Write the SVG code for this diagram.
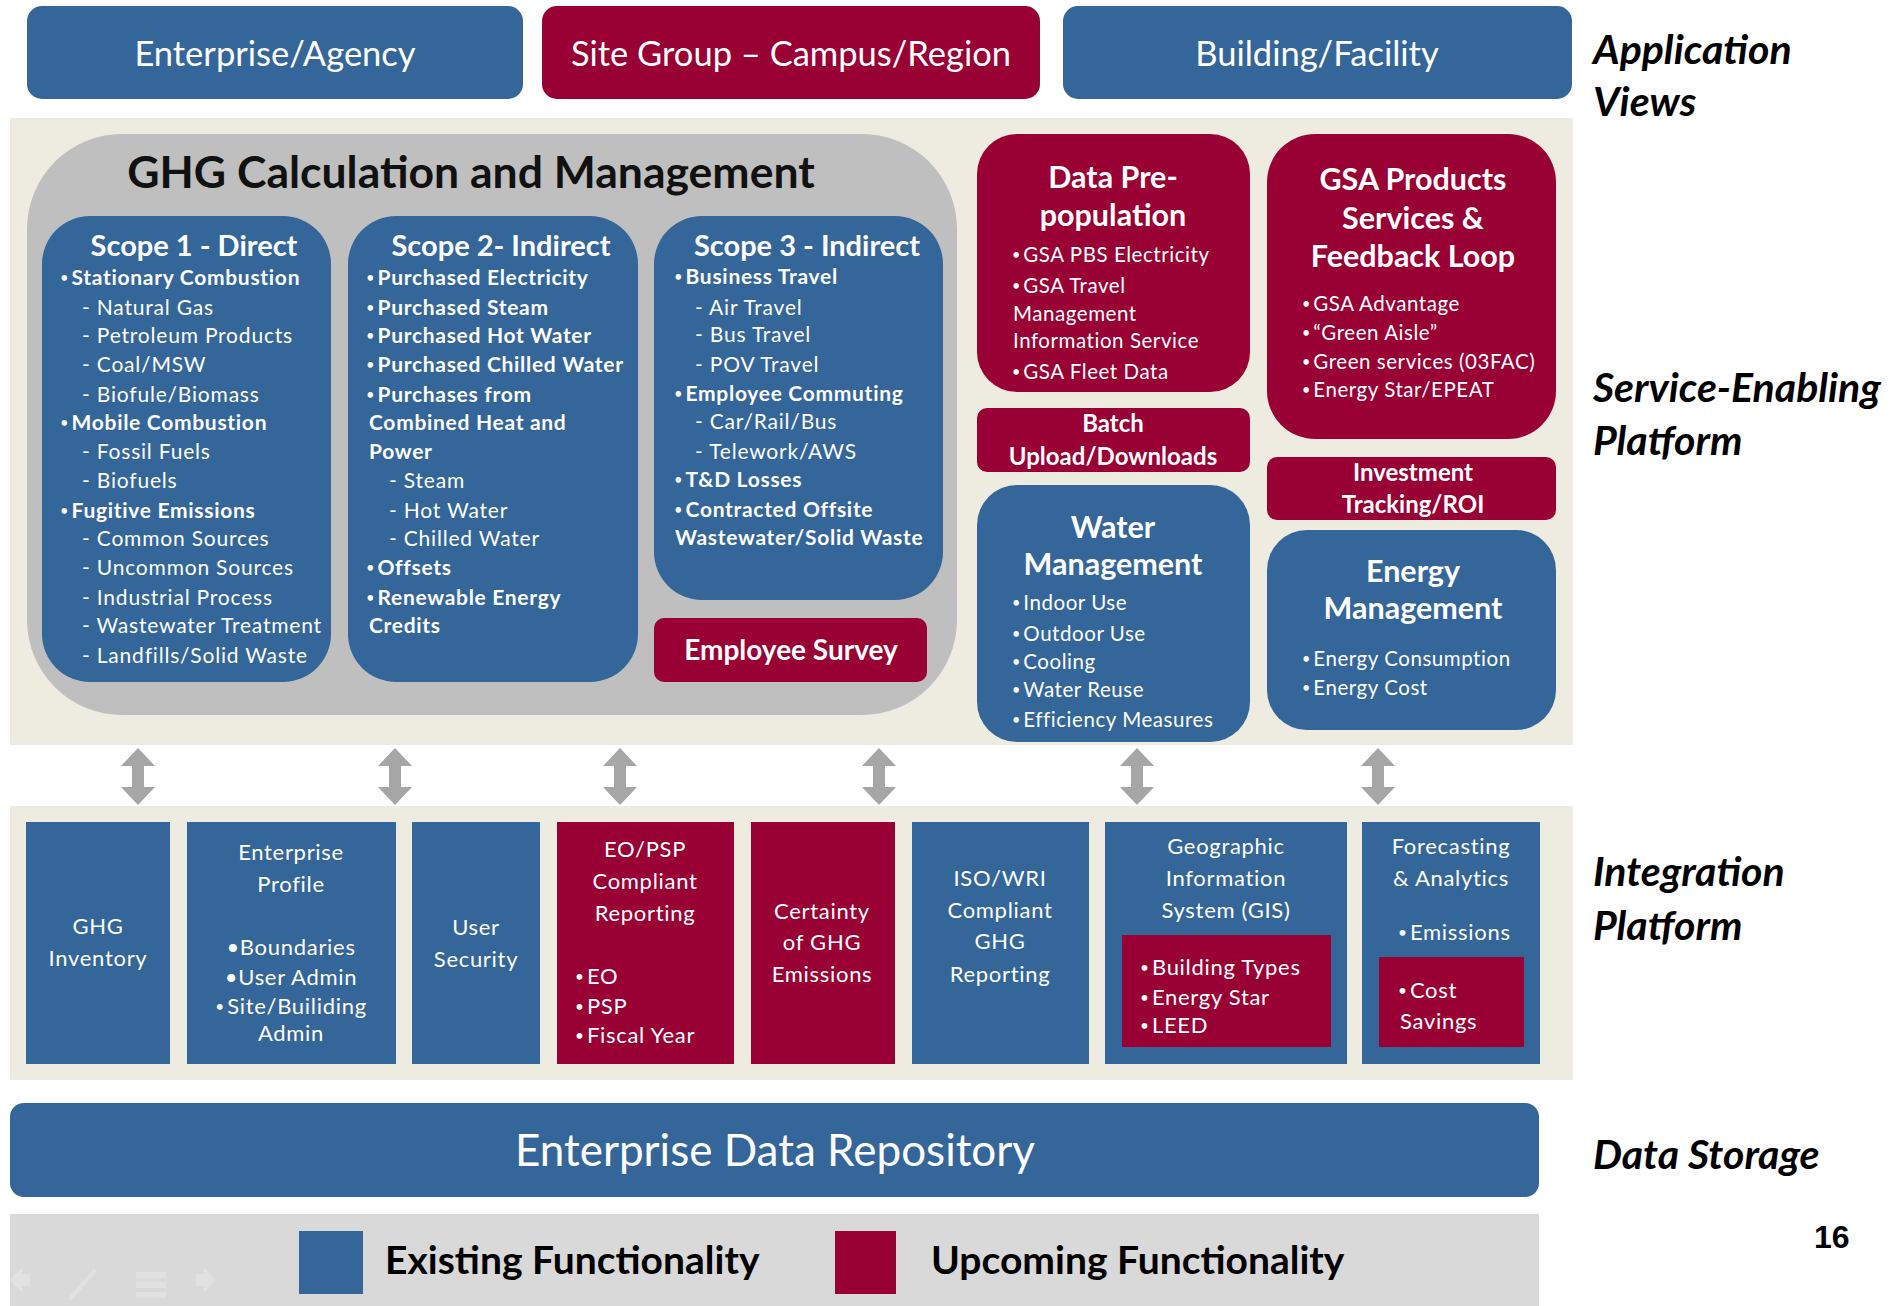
<svg xmlns="http://www.w3.org/2000/svg" width="1900" height="1306" viewBox="0 0 1900 1306">
<defs>
<style>
text{font-family:Lato,"Open Sans","Liberation Sans",sans-serif;fill:#fff}
.blue{fill:#34669A}
.red{fill:#990033}
.top{font-size:34.5px}
.side{font-size:41px;font-weight:bold;font-style:italic;fill:#000}
.st{font-size:29px;font-weight:bold}
.it{font-size:21px;letter-spacing:0.8px}
.b{font-weight:bold;letter-spacing:0.7px}
.sm{font-size:20.5px;letter-spacing:0.55px}
.mid{text-anchor:middle}
.hd{font-size:30.5px;font-weight:bold;text-anchor:middle}
.hd2{font-size:24px;font-weight:bold;text-anchor:middle}
.ip{font-size:22px;letter-spacing:0.7px}
.lg{font-size:39px;font-weight:bold;fill:#000}
.bu{font-size:0.7em;baseline-shift:0.12em;letter-spacing:3px;font-weight:normal}
</style>
<path id="dblarrow" d="M0,0 L17,18 L6,18 L6,39 L17,39 L0,57 L-17,39 L-6,39 L-6,18 L-17,18 Z" fill="#A6A6A6"/>
</defs>
<rect width="1900" height="1306" fill="#fff"/>

<!-- Application views -->
<g id="enterprise-agency"><rect class="blue" x="27" y="6" width="496" height="93" rx="15"/><text class="top mid" x="275" y="66">Enterprise/Agency</text></g>
<g id="site-group"><rect class="red" x="542" y="6" width="498" height="93" rx="15"/><text class="top mid" x="791" y="66">Site Group – Campus/Region</text></g>
<g id="building-facility"><rect class="blue" x="1063" y="6" width="509" height="93" rx="15"/><text class="top mid" x="1317" y="66">Building/Facility</text></g>
<text class="side" x="1593" y="64">Application</text>
<text class="side" x="1593" y="116">Views</text>

<!-- Service-enabling band -->
<rect x="10" y="118" width="1563" height="627" fill="#EEEBE0"/>
<g id="ghg-calc">
<rect x="27" y="134" width="930" height="581" rx="95" fill="#BFBFBF"/>
<text x="471" y="188" style="font-size:44.5px;font-weight:bold;fill:#111;text-anchor:middle">GHG Calculation and Management</text>
</g>
<g id="scope1">
<rect class="blue" x="42" y="216" width="289" height="466" rx="48"/>
<text class="st mid" x="194" y="256">Scope 1 - Direct</text>
<text class="it b" x="60" y="285"><tspan class="bu">•</tspan>Stationary Combustion</text>
<text class="it" x="82" y="315">- Natural Gas</text>
<text class="it" x="82" y="343">- Petroleum Products</text>
<text class="it" x="82" y="372">- Coal/MSW</text>
<text class="it" x="82" y="402">- Biofule/Biomass</text>
<text class="it b" x="60" y="430"><tspan class="bu">•</tspan>Mobile Combustion</text>
<text class="it" x="82" y="459">- Fossil Fuels</text>
<text class="it" x="82" y="488">- Biofuels</text>
<text class="it b" x="60" y="518"><tspan class="bu">•</tspan>Fugitive Emissions</text>
<text class="it" x="82" y="546">- Common Sources</text>
<text class="it" x="82" y="575">- Uncommon Sources</text>
<text class="it" x="82" y="605">- Industrial Process</text>
<text class="it" x="82" y="633">- Wastewater Treatment</text>
<text class="it" x="82" y="663">- Landfills/Solid Waste</text>
</g>
<g id="scope2">
<rect class="blue" x="348" y="216" width="290" height="466" rx="48"/>
<text class="st mid" x="501" y="256">Scope 2- Indirect</text>
<text class="it b" x="366" y="285"><tspan class="bu">•</tspan>Purchased Electricity</text>
<text class="it b" x="366" y="315"><tspan class="bu">•</tspan>Purchased Steam</text>
<text class="it b" x="366" y="343"><tspan class="bu">•</tspan>Purchased Hot Water</text>
<text class="it b" x="366" y="372"><tspan class="bu">•</tspan>Purchased Chilled Water</text>
<text class="it b" x="366" y="402"><tspan class="bu">•</tspan>Purchases from</text>
<text class="it b" x="369" y="430">Combined Heat and</text>
<text class="it b" x="369" y="459">Power</text>
<text class="it" x="389" y="488">- Steam</text>
<text class="it" x="389" y="518">- Hot Water</text>
<text class="it" x="389" y="546">- Chilled Water</text>
<text class="it b" x="366" y="575"><tspan class="bu">•</tspan>Offsets</text>
<text class="it b" x="366" y="605"><tspan class="bu">•</tspan>Renewable Energy</text>
<text class="it b" x="369" y="633">Credits</text>
</g>
<g id="scope3">
<rect class="blue" x="654" y="216" width="289" height="384" rx="48"/>
<text class="st mid" x="807" y="256">Scope 3 -  Indirect</text>
<text class="it b" x="674" y="284"><tspan class="bu">•</tspan>Business Travel</text>
<text class="it" x="695" y="315">- Air Travel</text>
<text class="it" x="695" y="342">- Bus Travel</text>
<text class="it" x="695" y="372">- POV Travel</text>
<text class="it b" x="674" y="401"><tspan class="bu">•</tspan>Employee Commuting</text>
<text class="it" x="695" y="429">- Car/Rail/Bus</text>
<text class="it" x="695" y="459">- Telework/AWS</text>
<text class="it b" x="674" y="487"><tspan class="bu">•</tspan>T&amp;D Losses</text>
<text class="it b" x="674" y="517"><tspan class="bu">•</tspan>Contracted  Offsite</text>
<text class="it b" x="675" y="545">Wastewater/Solid Waste</text>
</g>
<g id="employee-survey">
<rect class="red" x="654" y="618" width="273" height="64" rx="10"/>
<text class="mid" x="791" y="660" style="font-size:28px;font-weight:bold">Employee Survey</text>
</g>
<g id="data-prepopulation">
<rect class="red" x="977" y="134" width="273" height="258" rx="40"/>
<text class="hd" x="1113" y="188">Data Pre-</text>
<text class="hd" x="1113" y="226">population</text>
<text class="sm" x="1012" y="262"><tspan class="bu">•</tspan>GSA PBS Electricity</text>
<text class="sm" x="1012" y="293"><tspan class="bu">•</tspan>GSA Travel</text>
<text class="sm" x="1013" y="321">Management</text>
<text class="sm" x="1013" y="348">Information Service</text>
<text class="sm" x="1012" y="379"><tspan class="bu">•</tspan>GSA Fleet Data</text>
</g>
<g id="batch-upload">
<rect class="red" x="977" y="408" width="273" height="64" rx="10"/>
<text class="hd2" x="1113" y="432">Batch</text>
<text class="hd2" x="1113" y="465">Upload/Downloads</text>
</g>
<g id="water-management">
<rect class="blue" x="977" y="485" width="273" height="257" rx="40"/>
<text class="hd" x="1113" y="538">Water</text>
<text class="hd" x="1113" y="575">Management</text>
<text class="sm" x="1012" y="610"><tspan class="bu">•</tspan>Indoor Use</text>
<text class="sm" x="1012" y="641"><tspan class="bu">•</tspan>Outdoor Use</text>
<text class="sm" x="1012" y="669"><tspan class="bu">•</tspan>Cooling</text>
<text class="sm" x="1012" y="697"><tspan class="bu">•</tspan>Water Reuse</text>
<text class="sm" x="1012" y="727"><tspan class="bu">•</tspan>Efficiency Measures</text>
</g>
<g id="gsa-products">
<rect class="red" x="1267" y="134" width="289" height="305" rx="48"/>
<text class="hd" x="1413" y="190">GSA Products</text>
<text class="hd" x="1413" y="229">Services &amp;</text>
<text class="hd" x="1413" y="267">Feedback Loop</text>
<text class="sm" x="1302" y="311"><tspan class="bu">•</tspan>GSA Advantage</text>
<text class="sm" x="1302" y="340"><tspan class="bu">•</tspan>“Green Aisle”</text>
<text class="sm" x="1302" y="369"><tspan class="bu">•</tspan>Green services (03FAC)</text>
<text class="sm" x="1302" y="397"><tspan class="bu">•</tspan>Energy Star/EPEAT</text>
</g>
<g id="investment-tracking">
<rect class="red" x="1267" y="457" width="289" height="63" rx="10"/>
<text class="hd2" x="1413" y="481">Investment</text>
<text class="hd2" x="1413" y="513">Tracking/ROI</text>
</g>
<g id="energy-management">
<rect class="blue" x="1267" y="530" width="289" height="200" rx="40"/>
<text class="hd" x="1413" y="582">Energy</text>
<text class="hd" x="1413" y="619">Management</text>
<text class="sm" x="1302" y="666"><tspan class="bu">•</tspan>Energy Consumption</text>
<text class="sm" x="1302" y="695"><tspan class="bu">•</tspan>Energy Cost</text>
</g>
<text class="side" x="1593" y="402">Service-Enabling</text>
<text class="side" x="1593" y="455">Platform</text>

<!-- Connectors -->
<g id="connectors">
<use href="#dblarrow" x="138" y="748"/>
<use href="#dblarrow" x="395" y="748"/>
<use href="#dblarrow" x="620" y="748"/>
<use href="#dblarrow" x="879" y="748"/>
<use href="#dblarrow" x="1137" y="748"/>
<use href="#dblarrow" x="1378" y="748"/>
</g>

<!-- Integration platform -->
<rect x="10" y="806" width="1563" height="274" fill="#EEEBE0"/>
<g id="ghg-inventory"><rect class="blue" x="26" y="822" width="144" height="242"/>
<text class="ip mid" x="98" y="934">GHG</text><text class="ip mid" x="98" y="966">Inventory</text></g>
<g id="enterprise-profile"><rect class="blue" x="187" y="822" width="209" height="242"/>
<text class="ip mid" x="291" y="860">Enterprise</text><text class="ip mid" x="291" y="892">Profile</text>
<text class="ip mid" x="291" y="955">•Boundaries</text><text class="ip mid" x="291" y="985">•User Admin</text>
<text class="ip mid" x="291" y="1014"><tspan class="bu">•</tspan>Site/Builiding</text><text class="ip mid" x="291" y="1041">Admin</text></g>
<g id="user-security"><rect class="blue" x="412" y="822" width="128" height="242"/>
<text class="ip mid" x="476" y="935">User</text><text class="ip mid" x="476" y="967">Security</text></g>
<g id="eo-psp"><rect class="red" x="557" y="822" width="177" height="242"/>
<text class="ip mid" x="645" y="857">EO/PSP</text><text class="ip mid" x="645" y="889">Compliant</text><text class="ip mid" x="645" y="921">Reporting</text>
<text class="ip" x="575" y="984"><tspan class="bu">•</tspan>EO</text><text class="ip" x="575" y="1014"><tspan class="bu">•</tspan>PSP</text><text class="ip" x="575" y="1043"><tspan class="bu">•</tspan>Fiscal Year</text></g>
<g id="certainty"><rect class="red" x="751" y="822" width="144" height="242"/>
<text class="ip mid" x="822" y="919">Certainty</text><text class="ip mid" x="822" y="950">of GHG</text><text class="ip mid" x="822" y="982">Emissions</text></g>
<g id="iso-wri"><rect class="blue" x="912" y="822" width="177" height="242"/>
<text class="ip mid" x="1000" y="886">ISO/WRI</text><text class="ip mid" x="1000" y="918">Compliant</text><text class="ip mid" x="1000" y="949">GHG</text><text class="ip mid" x="1000" y="982">Reporting</text></g>
<g id="gis"><rect class="blue" x="1105" y="822" width="242" height="242"/>
<text class="ip mid" x="1226" y="854">Geographic</text><text class="ip mid" x="1226" y="886">Information</text><text class="ip mid" x="1226" y="918">System (GIS)</text>
<rect class="red" x="1122" y="935" width="209" height="112"/>
<text class="ip" x="1140" y="975"><tspan class="bu">•</tspan>Building Types</text><text class="ip" x="1140" y="1005"><tspan class="bu">•</tspan>Energy Star</text><text class="ip" x="1140" y="1033"><tspan class="bu">•</tspan>LEED</text></g>
<g id="forecasting"><rect class="blue" x="1362" y="822" width="178" height="242"/>
<text class="ip mid" x="1451" y="854">Forecasting</text><text class="ip mid" x="1451" y="886">&amp; Analytics</text>
<text class="ip" x="1398" y="940"><tspan class="bu">•</tspan>Emissions</text>
<rect class="red" x="1379" y="957" width="145" height="90"/>
<text class="ip" x="1398" y="998"><tspan class="bu">•</tspan>Cost</text><text class="ip" x="1400" y="1029">Savings</text></g>
<text class="side" x="1593" y="886">Integration</text>
<text class="side" x="1593" y="940">Platform</text>

<!-- Data storage -->
<g id="enterprise-data-repository"><rect class="blue" x="10" y="1103" width="1529" height="94" rx="14"/>
<text class="mid" x="775" y="1166" style="font-size:44px">Enterprise Data Repository</text></g>
<text class="side" x="1593" y="1169">Data Storage</text>

<!-- Legend -->
<g id="legend">
<rect x="10" y="1214" width="1529" height="92" fill="#D9D9D9"/>
<rect class="blue" x="299" y="1231" width="64" height="63"/>
<text class="lg" x="385" y="1274">Existing Functionality</text>
<rect class="red" x="835" y="1231" width="61" height="63"/>
<text class="lg" x="931" y="1274">Upcoming Functionality</text>
</g>
<g id="slide-controls" fill="#E4E4E4" opacity="0.8">
<path d="M22,1268 L10,1280 L22,1292 L22,1286 L30,1286 L30,1274 L22,1274 Z"/>
<path d="M68,1298 L94,1268 L97,1271 L71,1301 Z"/>
<rect x="136" y="1272" width="30" height="6"/><rect x="136" y="1282" width="30" height="6"/><rect x="136" y="1292" width="30" height="6"/>
<path d="M204,1268 L216,1280 L204,1292 L204,1286 L196,1286 L196,1274 L204,1274 Z"/>
</g>
<text x="1814" y="1248" style="font-family:'Liberation Sans',Arial,sans-serif;font-size:32px;font-weight:bold;fill:#000">16</text>
</svg>
